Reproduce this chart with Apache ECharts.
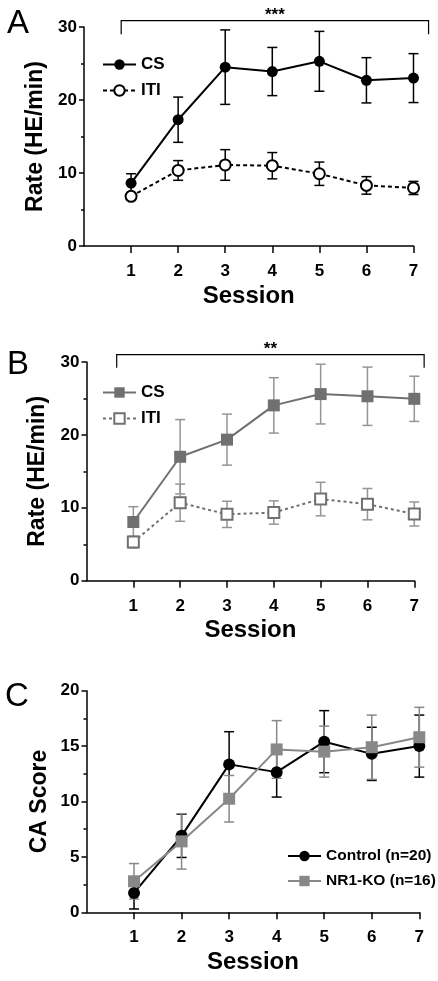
<!DOCTYPE html>
<html><head><meta charset="utf-8">
<script src="https://cdn.jsdelivr.net/npm/echarts@6/dist/echarts.min.js"></script>
<style>html,body{margin:0;padding:0;background:#fff;}#c{width:438px;height:981px;}</style>
</head><body><div id="c"></div>
<script>
const sessions = [1,2,3,4,5,6,7];
const csA = [8.6,17.3,24.5,23.9,25.3,22.7,23.0];
const csA_err = [1.3,3.1,5.1,3.3,4.1,3.1,3.35];
const itiA = [6.8,10.35,11.1,11.0,9.9,8.3,7.95];
const itiA_err = [0.5,1.35,2.1,1.8,1.6,1.2,0.9];
const csB = [8.05,17.0,19.35,24.05,25.6,25.3,24.95];
const csB_err = [2.1,5.1,3.5,3.8,4.1,4.0,3.1];
const itiB = [5.3,10.7,9.1,9.35,11.2,10.5,9.15];
const itiB_err = [0.8,2.55,1.8,1.6,2.3,2.15,1.65];
const ctrlC = [1.75,6.9,13.35,12.65,15.4,14.3,15.0];
const ctrlC_err = [1.45,1.95,2.95,2.25,2.8,2.4,2.8];
const koC = [2.8,6.4,10.25,14.7,14.5,14.9,15.8];
const koC_err = [1.6,2.5,2.1,2.6,2.3,2.9,2.7];
const sigA = [0.79, 7.32, 30.86, 29.0];
const sigB = [0.645, 7.21, 31.0, 29.2];
const sigTextA = '***', sigTextB = '**';
const xTitle = 'Session';
const yTitleAB = 'Rate (HE/min)', yTitleC = 'CA Score';

const FONT = '"Liberation Sans", Arial, sans-serif';
const GRAY = '#707070', GRAY_ERR = '#959595', GRAY_C = '#888888';

function pts(v){ return sessions.map((s,i)=>[s, v[i]]); }
function errData(v, e){ return sessions.map((s,i)=>[s, v[i]-e[i], v[i]+e[i]]); }
function errSeries(idx, v, e, color, z){
  return {type:'custom', xAxisIndex:idx, yAxisIndex:idx, data:errData(v,e), z:z, silent:true,
    encode:{x:0, y:[1,2]},
    renderItem:(params, api)=>{
      const x=api.value(0), lo=api.value(1), hi=api.value(2);
      const a=api.coord([x,lo]), b=api.coord([x,hi]);
      const w=5, st={stroke:color, lineWidth:1.5};
      return {type:'group', children:[
        {type:'line', shape:{x1:a[0],y1:a[1],x2:b[0],y2:b[1]}, style:st},
        {type:'line', shape:{x1:a[0]-w,y1:a[1],x2:a[0]+w,y2:a[1]}, style:st},
        {type:'line', shape:{x1:b[0]-w,y1:b[1],x2:b[0]+w,y2:b[1]}, style:st}]};
    }};
}
function sigSeries(idx, s, txt){
  return {type:'custom', xAxisIndex:idx, yAxisIndex:idx, data:[s], silent:true, clip:false, z:5,
    encode:{x:[0,1], y:[2,3]},
    renderItem:(params, api)=>{
      const p0=api.coord([api.value(0), api.value(3)]);
      const p1=api.coord([api.value(0), api.value(2)]);
      const p2=api.coord([api.value(1), api.value(2)]);
      const p3=api.coord([api.value(1), api.value(3)]);
      return {type:'group', children:[
        {type:'polyline', shape:{points:[p0,p1,p2,p3]}, style:{stroke:'#000', lineWidth:1.2, fill:null}},
        {type:'text', style:{text:txt, x:(p1[0]+p2[0])/2, y:p1[1]+3, align:'center', verticalAlign:'bottom',
          font:'bold 17px '+FONT, fill:'#000'}}]};
    }};
}
function xAxis(idx){
  return {type:'value', gridIndex:idx, min:0, max:7, interval:1,
    axisLine:{show:true, onZero:false, lineStyle:{color:'#000', width:1.5}},
    axisTick:{show:true, length:7, customValues:sessions, lineStyle:{color:'#000', width:1.5}},
    axisLabel:{customValues:sessions, margin:17, fontSize:17, fontWeight:'bold', color:'#000', fontFamily:FONT},
    splitLine:{show:false},
    name:xTitle, nameLocation:'middle', nameGap:38, nameMoveOverlap:false,
    nameTextStyle:{fontSize:24, fontWeight:'bold', color:'#000', fontFamily:FONT}};
}
function yAxis(idx, max, interval, title, gap){
  return {type:'value', gridIndex:idx, min:0, max:max, interval:interval,
    axisLine:{show:true, onZero:false, lineStyle:{color:'#000', width:1.5}},
    axisTick:{show:true, length:5, lineStyle:{color:'#000', width:1.5}},
    minorTick:{show:true, splitNumber:2, length:3, lineStyle:{color:'#000', width:1.5}},
    axisLabel:{margin:7, fontSize:17, fontWeight:'bold', color:'#000', fontFamily:FONT},
    splitLine:{show:false},
    name:title, nameLocation:'middle', nameGap:gap, nameMoveOverlap:false,
    nameTextStyle:{fontSize:23, fontWeight:'bold', color:'#000', fontFamily:FONT}};
}
const legendText = {fontSize:17, fontWeight:'bold', color:'#000', fontFamily:FONT};

const option = {
  animation:false,
  backgroundColor:'#fff',
  title:[
    {text:'A', left:2, top:2, textStyle:{fontSize:33, fontWeight:'normal', color:'#000', fontFamily:FONT}},
    {text:'B', left:2, top:343, textStyle:{fontSize:33, fontWeight:'normal', color:'#000', fontFamily:FONT}},
    {text:'C', left:0, top:675, textStyle:{fontSize:33, fontWeight:'normal', color:'#000', fontFamily:FONT}}
  ],
  grid:[
    {left:84, top:27, width:329.5, height:219, outerBoundsMode:'none'},
    {left:86.5, top:362, width:327.8, height:218.7, outerBoundsMode:'none'},
    {left:86.5, top:690.7, width:332.8, height:221.6, outerBoundsMode:'none'}
  ],
  xAxis:[xAxis(0), xAxis(1), xAxis(2)],
  yAxis:[yAxis(0,30,10,yTitleAB,37), yAxis(1,30,10,yTitleAB,37), yAxis(2,20,5,yTitleC,35)],
  legend:[
    {data:['CS','ITI'], left:97, top:51, orient:'vertical', itemWidth:33, itemHeight:13, itemGap:9, selectedMode:false, textStyle:legendText},
    {data:['CS ','ITI '], left:97, top:379, orient:'vertical', itemWidth:33, itemHeight:13, itemGap:9, selectedMode:false, textStyle:legendText},
    {data:['Control (n=20)','NR1-KO (n=16)'], left:282, top:843, orient:'vertical', itemWidth:33, itemHeight:13, itemGap:9, selectedMode:false, textStyle:Object.assign({},legendText,{fontSize:15.5})}
  ],
  series:[
    errSeries(0, csA, csA_err, '#000', 1),
    errSeries(0, itiA, itiA_err, '#000', 1),
    {name:'CS', type:'line', xAxisIndex:0, yAxisIndex:0, data:pts(csA), z:3,
      symbol:'circle', symbolSize:11, itemStyle:{color:'#000'}, lineStyle:{color:'#000', width:2}},
    {name:'ITI', type:'line', xAxisIndex:0, yAxisIndex:0, data:pts(itiA), z:3,
      symbol:'circle', symbolSize:11, itemStyle:{color:'#fff', borderColor:'#000', borderWidth:2},
      lineStyle:{color:'#000', width:2, type:[4,3]}},
    sigSeries(0, sigA, sigTextA),

    errSeries(1, csB, csB_err, GRAY_ERR, 1),
    errSeries(1, itiB, itiB_err, GRAY_ERR, 1),
    {name:'CS ', type:'line', xAxisIndex:1, yAxisIndex:1, data:pts(csB), z:3,
      symbol:'rect', symbolSize:12, itemStyle:{color:GRAY}, lineStyle:{color:GRAY, width:2}},
    {name:'ITI ', type:'line', xAxisIndex:1, yAxisIndex:1, data:pts(itiB), z:3,
      symbol:'rect', symbolSize:11, itemStyle:{color:'#fff', borderColor:GRAY, borderWidth:2},
      lineStyle:{color:GRAY, width:2, type:[3,3]}},
    sigSeries(1, sigB, sigTextB),

    errSeries(2, ctrlC, ctrlC_err, '#000', 1),
    errSeries(2, koC, koC_err, GRAY_C, 1),
    {name:'Control (n=20)', type:'line', xAxisIndex:2, yAxisIndex:2, data:pts(ctrlC), z:3,
      symbol:'circle', symbolSize:12, itemStyle:{color:'#000'}, lineStyle:{color:'#000', width:2}},
    {name:'NR1-KO (n=16)', type:'line', xAxisIndex:2, yAxisIndex:2, data:pts(koC), z:4,
      symbol:'rect', symbolSize:12, itemStyle:{color:GRAY_C}, lineStyle:{color:GRAY_C, width:2}}
  ]
};
const chart = echarts.init(document.getElementById('c'), null, {renderer:'canvas'});
chart.setOption(option);
</script></body></html>
